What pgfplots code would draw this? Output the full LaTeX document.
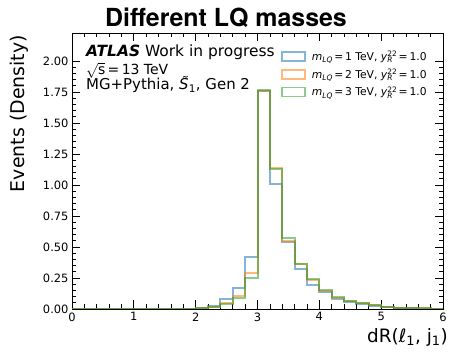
\documentclass[border=0pt]{standalone}
\usepackage{fontspec}
\setmainfont{DejaVu Sans}
\newfontfamily\heros{TeX Gyre Heros}
\usepackage{pgfplots}
\pgfplotsset{compat=1.18}
\definecolor{cA}{HTML}{1F77B4}
\definecolor{cB}{HTML}{FF7F0E}
\definecolor{cC}{HTML}{2CA02C}
\newcommand{\yR}{\textit{y}\hbox{\ooalign{\raisebox{0.62ex}{\fontsize{7.5}{8}\selectfont 22}\cr\raisebox{-0.4ex}{\fontsize{7.5}{8}\selectfont\textit{R}}\cr}}}
\newcommand{\mLQ}{\textit{m}\raisebox{-0.4ex}{\fontsize{7.5}{8}\selectfont\textit{LQ}}}
\begin{document}
\begin{tikzpicture}
\useasboundingbox (-72bp,-45bp) rectangle (377bp,309bp);
\begin{axis}[
  at={(0,0)}, anchor=south west,
  scale only axis, width=371bp, height=276bp,
  xmin=0, xmax=6, ymin=0, ymax=2.225,
  xtick={0,1,2,3,4,5,6}, minor x tick num=4,
  ytick={0,0.25,0.5,0.75,1.0,1.25,1.5,1.75,2.0}, minor y tick num=4,
  tick align=inside, xtick pos=both, ytick pos=both,
  major tick length=8.5bp, minor tick length=4.5bp,
  every tick/.style={black, line width=0.7bp},
  axis line style={line width=0.8bp},
  ticklabel style={font=\fontsize{11.5}{12}\selectfont},
  /pgf/number format/assume math mode=true,
  yticklabel style={/pgf/number format/fixed, /pgf/number format/fixed zerofill, /pgf/number format/precision=2},
  legend style={at={(0.563,0.938)}, anchor=north west, draw=none, fill=none,
    font=\fontsize{10.8}{11}\selectfont, row sep=5bp, inner sep=0pt,
    nodes={inner sep=1bp}},
  legend cell align=left,
  legend image code/.code={\draw[#1, line width=1.8bp] (0bp,-4.5bp) rectangle (23bp,4.5bp);\path (28bp,0bp);},
]
\addplot[const plot, draw=cA, draw opacity=0.55, line width=2bp] coordinates {
(0.0,0) (1.8,0.003) (2.0,0.008) (2.2,0.025) (2.4,0.08) (2.6,0.17) (2.8,0.42)
(3.0,1.76) (3.2,1.01) (3.4,0.54) (3.6,0.32) (3.8,0.19) (4.0,0.135) (4.2,0.08)
(4.4,0.055) (4.6,0.04) (4.8,0.025) (5.0,0.015) (5.2,0.01) (5.4,0.006) (5.6,0.004)
(5.8,0.003) (6.0,0.003)};
\addlegendentry{\mLQ\,=\,1 TeV, \yR\,=\,1.0}
\addplot[const plot, draw=cB, draw opacity=0.55, line width=2bp] coordinates {
(0.0,0) (1.8,0.002) (2.0,0.006) (2.2,0.016) (2.4,0.048) (2.6,0.105) (2.8,0.29)
(3.0,1.76) (3.2,1.14) (3.4,0.55) (3.6,0.365) (3.8,0.235) (4.0,0.148) (4.2,0.09)
(4.4,0.066) (4.6,0.046) (4.8,0.032) (5.0,0.017) (5.2,0.011) (5.4,0.007) (5.6,0.005)
(5.8,0.004) (6.0,0.004)};
\addlegendentry{\mLQ\,=\,2 TeV, \yR\,=\,1.0}
\addplot[const plot, draw=cC, draw opacity=0.55, line width=2bp] coordinates {
(0.0,0) (1.8,0.002) (2.0,0.005) (2.2,0.014) (2.4,0.04) (2.6,0.085) (2.8,0.25)
(3.0,1.765) (3.2,1.13) (3.4,0.575) (3.6,0.36) (3.8,0.24) (4.0,0.15) (4.2,0.095)
(4.4,0.068) (4.6,0.048) (4.8,0.034) (5.0,0.018) (5.2,0.012) (5.4,0.008) (5.6,0.005)
(5.8,0.004) (6.0,0.004)};
\addlegendentry{\mLQ\,=\,3 TeV, \yR\,=\,1.0}
\end{axis}
\node[font=\heros\bfseries\fontsize{25}{27}\selectfont] at (154bp,291bp) {Different LQ masses};
\node[anchor=base west, inner sep=0pt, font=\fontsize{15.5}{17}\selectfont] at (14bp,252bp) {\textbf{\textit{ATLAS}} Work in progress};
\node[anchor=base west, inner sep=0pt, font=\fontsize{14}{15}\selectfont] at (14bp,234bp) {$\sqrt{\hbox{s}}$\,=\,13 TeV};
\node[anchor=base west, inner sep=0pt, font=\fontsize{15}{16}\selectfont] at (14bp,219bp) {MG+Pythia, \textit{\~S}\textsubscript{1}, Gen 2};
\node[anchor=east, inner sep=0pt, font=\fontsize{18.5}{20}\selectfont] at (376bp,-28bp) {dR(ℓ\textsubscript{1}, j\textsubscript{1})};
\node[anchor=east, rotate=90, inner sep=0pt, font=\fontsize{19}{20}\selectfont] at (-53bp,274bp) {Events (Density)};
\end{tikzpicture}
\end{document}
